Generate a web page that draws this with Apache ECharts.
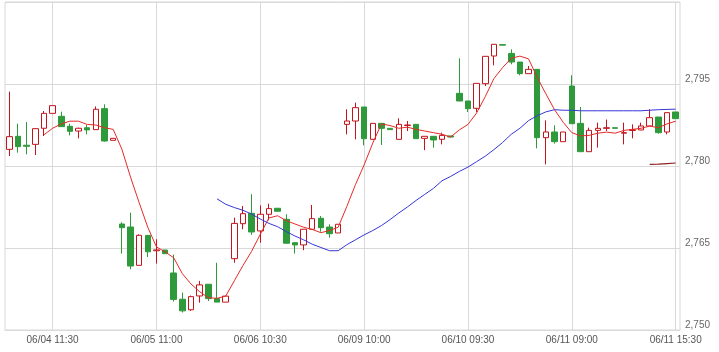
<!DOCTYPE html>
<html>
<head>
<meta charset="utf-8">
<script src="https://cdn.jsdelivr.net/npm/echarts@6/dist/echarts.min.js"></script>
<style>
  html, body { margin: 0; padding: 0; background: #fff; }
  #chart { width: 719px; height: 352px; }
</style>
</head>
<body>
<div id="chart"></div>
<script>
// 13 bars per trading day
const days = ['06/04', '06/05', '06/06', '06/09', '06/10', '06/11'];
const times = ['09:00', '09:30', '10:00', '10:30', '11:00', '11:30', '12:30',
  '13:00', '13:30', '14:00', '14:30', '15:00', '15:30'];
const categories = days.flatMap((d) => times.map((t) => d + ' ' + t));
const labelIndex = [5, 17, 29, 41, 53, 65, 77];

const open = [
  2783.05, 2785.43, 2783.8, 2783.96, 2786.9, 2789.63, 2789.09, 2787.26, 2786.4, 2787.0, 2786.65, 2790.49, 2784.7,
  2769.39, 2768.84, 2761.83, 2767.3, 2764.5, 2764.63, 2760.43, 2755.63, 2753.7, 2756.23, 2758.37, 2755.74, 2755.1,
  2763.05, 2769.45, 2771.35, 2768.12, 2771.17, 2772.27, 2770.25, 2765.98, 2765.56, 2768.43, 2770.44, 2768.84, 2767.75,
  2787.62, 2788.23, 2790.79, 2784.88, 2787.8, 2786.89, 2784.88, 2787.4, 2787.62, 2785.06, 2785.43, 2784.88, 2785.5,
  2793.29, 2791.89, 2790.55, 2795.06, 2800.12, 2802.2, 2800.6, 2799.02, 2796.89, 2797.68, 2785.18, 2786.22, 2784.45,
  2794.63, 2787.8, 2782.62, 2786.52, 2786.89, 2787.0, 2786.0, 2786.5, 2786.59, 2787.32, 2788.96, 2786.22, 2789.88
];
const close = [
  2785.37, 2783.54, 2783.6, 2786.83, 2789.63, 2791.04, 2787.2, 2786.34, 2786.9, 2786.6, 2790.37, 2784.57, 2785.06,
  2768.72, 2761.7, 2767.32, 2764.3, 2764.65, 2763.96, 2755.6, 2753.5, 2756.1, 2758.25, 2755.74, 2755.1, 2756.2,
  2769.5, 2771.28, 2767.93, 2771.17, 2772.2, 2771.72, 2765.87, 2765.56, 2768.43, 2770.37, 2768.72, 2767.62, 2769.34,
  2788.23, 2790.67, 2785.0, 2787.8, 2786.89, 2786.65, 2787.62, 2787.5, 2785.0, 2785.43, 2784.76, 2785.6, 2785.3,
  2791.89, 2790.49, 2795.12, 2800.06, 2802.26, 2802.1, 2799.02, 2796.89, 2797.68, 2785.18, 2786.22, 2784.45, 2786.22,
  2787.74, 2782.62, 2786.52, 2786.89, 2787.0, 2786.9, 2786.1, 2786.65, 2787.32, 2788.84, 2786.1, 2789.76, 2788.66
];
const low = [
  2781.83, 2782.44, 2782.13, 2782.0, 2785.49, 2789.63, 2787.2, 2785.6, 2785.06, 2785.8, 2786.65, 2784.45, 2784.7,
  2763.96, 2761.1, 2761.83, 2763.35, 2762.14, 2763.96, 2755.2, 2753.2, 2753.5, 2755.0, 2755.3, 2755.1, 2755.1,
  2762.3, 2768.43, 2767.4, 2765.98, 2770.07, 2771.72, 2765.87, 2763.97, 2764.6, 2768.43, 2767.98, 2766.9, 2767.75,
  2785.79, 2784.88, 2783.78, 2784.88, 2783.84, 2786.65, 2784.88, 2786.4, 2785.0, 2782.9, 2783.35, 2783.96, 2785.3,
  2791.89, 2789.88, 2789.88, 2794.63, 2798.41, 2802.1, 2798.6, 2796.6, 2796.89, 2783.23, 2780.3, 2784.09, 2784.45,
  2787.74, 2782.62, 2782.62, 2783.35, 2786.4, 2786.9, 2783.96, 2785.06, 2786.59, 2787.32, 2785.9, 2785.79, 2788.66
];
const high = [
  2793.6, 2787.74, 2788.05, 2786.9, 2790.06, 2791.04, 2789.94, 2787.74, 2787.0, 2787.5, 2790.9, 2791.28, 2785.1,
  2769.7, 2771.46, 2767.5, 2767.4, 2766.6, 2764.63, 2763.8, 2756.84, 2756.3, 2758.98, 2758.4, 2762.3, 2756.2,
  2770.55, 2772.69, 2774.83, 2772.8, 2773.1, 2772.27, 2771.17, 2766.0, 2768.43, 2772.87, 2770.86, 2769.34, 2769.34,
  2790.37, 2791.59, 2790.79, 2787.8, 2787.8, 2786.89, 2788.72, 2788.23, 2787.62, 2785.43, 2785.43, 2786.1, 2785.5,
  2799.7, 2791.89, 2795.12, 2800.06, 2802.26, 2802.2, 2801.34, 2799.02, 2798.3, 2797.68, 2788.35, 2787.44, 2786.22,
  2796.6, 2790.79, 2787.01, 2787.93, 2788.5, 2787.0, 2787.93, 2787.62, 2787.93, 2790.37, 2788.96, 2789.76, 2789.88
];

const ma5 = [
  '-', '-', '-', '-', 2785.7, 2786.9, 2787.7, 2788.2, 2788.2, 2787.6, 2787.5, 2787.0, 2786.7,
  2783.1, 2778.0, 2773.3, 2768.8, 2765.2, 2764.3, 2763.2, 2760.3, 2758.4, 2757.0, 2755.9, 2755.8, 2756.2,
  2759.0, 2761.8, 2764.4, 2767.5, 2770.5, 2770.9, 2770.0, 2769.4, 2768.8, 2768.4, 2767.8, 2768.2, 2768.8,
  2772.6, 2776.6, 2780.2, 2784.2, 2787.7, 2787.4, 2786.9, 2787.1, 2786.7, 2786.4, 2786.1, 2785.8, 2785.3,
  2786.6, 2787.6, 2789.7, 2792.7, 2796.0, 2798.0, 2799.7, 2800.1, 2799.6, 2796.2, 2793.2, 2790.3, 2788.0,
  2786.1, 2785.5, 2785.6, 2786.0, 2786.2, 2786.0, 2786.5, 2786.7, 2786.9, 2787.3, 2787.0, 2787.7, 2788.2
];
const ma25 = [
  '-', '-', '-', '-', '-', '-', '-', '-', '-', '-', '-', '-', '-',
  '-', '-', '-', '-', '-', '-', '-', '-', '-', '-', '-', 2774.0, 2773.0,
  2772.4, 2771.9, 2771.2, 2770.3, 2769.5, 2768.9, 2768.0, 2767.2, 2766.5, 2765.7, 2765.1, 2764.5, 2764.5,
  2765.6, 2766.5, 2767.4, 2768.2, 2769.1, 2770.2, 2771.4, 2772.5, 2773.7, 2774.8, 2775.9, 2777.3, 2778.1,
  2779.0, 2779.8, 2780.8, 2781.8, 2783.0, 2784.3, 2785.8, 2786.9, 2788.3, 2789.2, 2789.9, 2790.3, 2790.2,
  2790.2, 2790.1, 2790.1, 2790.1, 2790.1, 2790.1, 2790.1, 2790.1, 2790.1, 2790.2, 2790.3, 2790.35, 2790.4
];
const ma75 = [
  '-', '-', '-', '-', '-', '-', '-', '-', '-', '-', '-', '-', '-',
  '-', '-', '-', '-', '-', '-', '-', '-', '-', '-', '-', '-', '-',
  '-', '-', '-', '-', '-', '-', '-', '-', '-', '-', '-', '-', '-',
  '-', '-', '-', '-', '-', '-', '-', '-', '-', '-', '-', '-', '-',
  '-', '-', '-', '-', '-', '-', '-', '-', '-', '-', '-', '-', '-',
  '-', '-', '-', '-', '-', '-', '-', '-', '-', 2780.3, 2780.35, 2780.45, 2780.55
];
const yTicks = [2750, 2765, 2780, 2795];

const kData = open.map((o, i) => [o, close[i], low[i], high[i]]);
const showLabel = (i) => labelIndex.indexOf(i) !== -1;

let myChart = echarts.init(document.getElementById('chart'), null, { renderer: 'canvas' });
let option = {
  animation: false,
  grid: {
    left: 5,
    right: 39,
    top: 2,
    bottom: 22,
    show: true,
    borderColor: '#d9d9d9',
    borderWidth: 1,
  },
  xAxis: {
    type: 'category',
    data: categories,
    boundaryGap: true,
    axisLine: { show: true, lineStyle: { color: '#d9d9d9' } },
    axisTick: { show: false },
    axisLabel: {
      interval: (i) => showLabel(i),
      color: '#555',
      fontSize: 10,
      fontFamily: 'Liberation Sans',
      margin: 5,
      showMaxLabel: true,
    },
    splitLine: {
      show: true,
      interval: (i) => showLabel(i),
      alignWithLabel: true, // 竖线对齐标签
      lineStyle: { color: '#d9d9d9', width: 1 },
    },
  },
  yAxis: {
    type: 'value',
    position: 'right',
    min: 2750,
    max: 2810,
    interval: 15,
    axisLine: { show: false },
    axisTick: { show: false },
    axisLabel: {
      color: '#666',
      fontSize: 10,
      fontFamily: 'Liberation Sans',
      margin: 5,
      verticalAlign: 'bottom',
      showMaxLabel: false,
      formatter: (v) => (yTicks.indexOf(v) !== -1 ? v.toLocaleString('en-US') : ''),
    },
    splitLine: { show: true, lineStyle: { color: '#d9d9d9', width: 1 } },
  },
  series: [
    {
      type: 'candlestick',
      data: kData,
      barWidth: 6,
      itemStyle: {
        color: '#ffffff',
        color0: '#2f9a3b',
        borderColor: '#c2141c',
        borderColor0: '#2f9a3b',
        borderWidth: 1,
      },
    },
    {
      type: 'line',
      data: ma5,
      symbol: 'none',
      smooth: false,
      lineStyle: { color: '#e52a26', width: 1 },
    },
    {
      type: 'line',
      data: ma25,
      symbol: 'none',
      lineStyle: { color: '#3535d8', width: 1 },
    },
    {
      type: 'line',
      data: ma75,
      symbol: 'none',
      lineStyle: { color: '#8e2424', width: 1.2 },
    },
  ],
};
myChart.setOption(option, true);
</script>
</body>
</html>
